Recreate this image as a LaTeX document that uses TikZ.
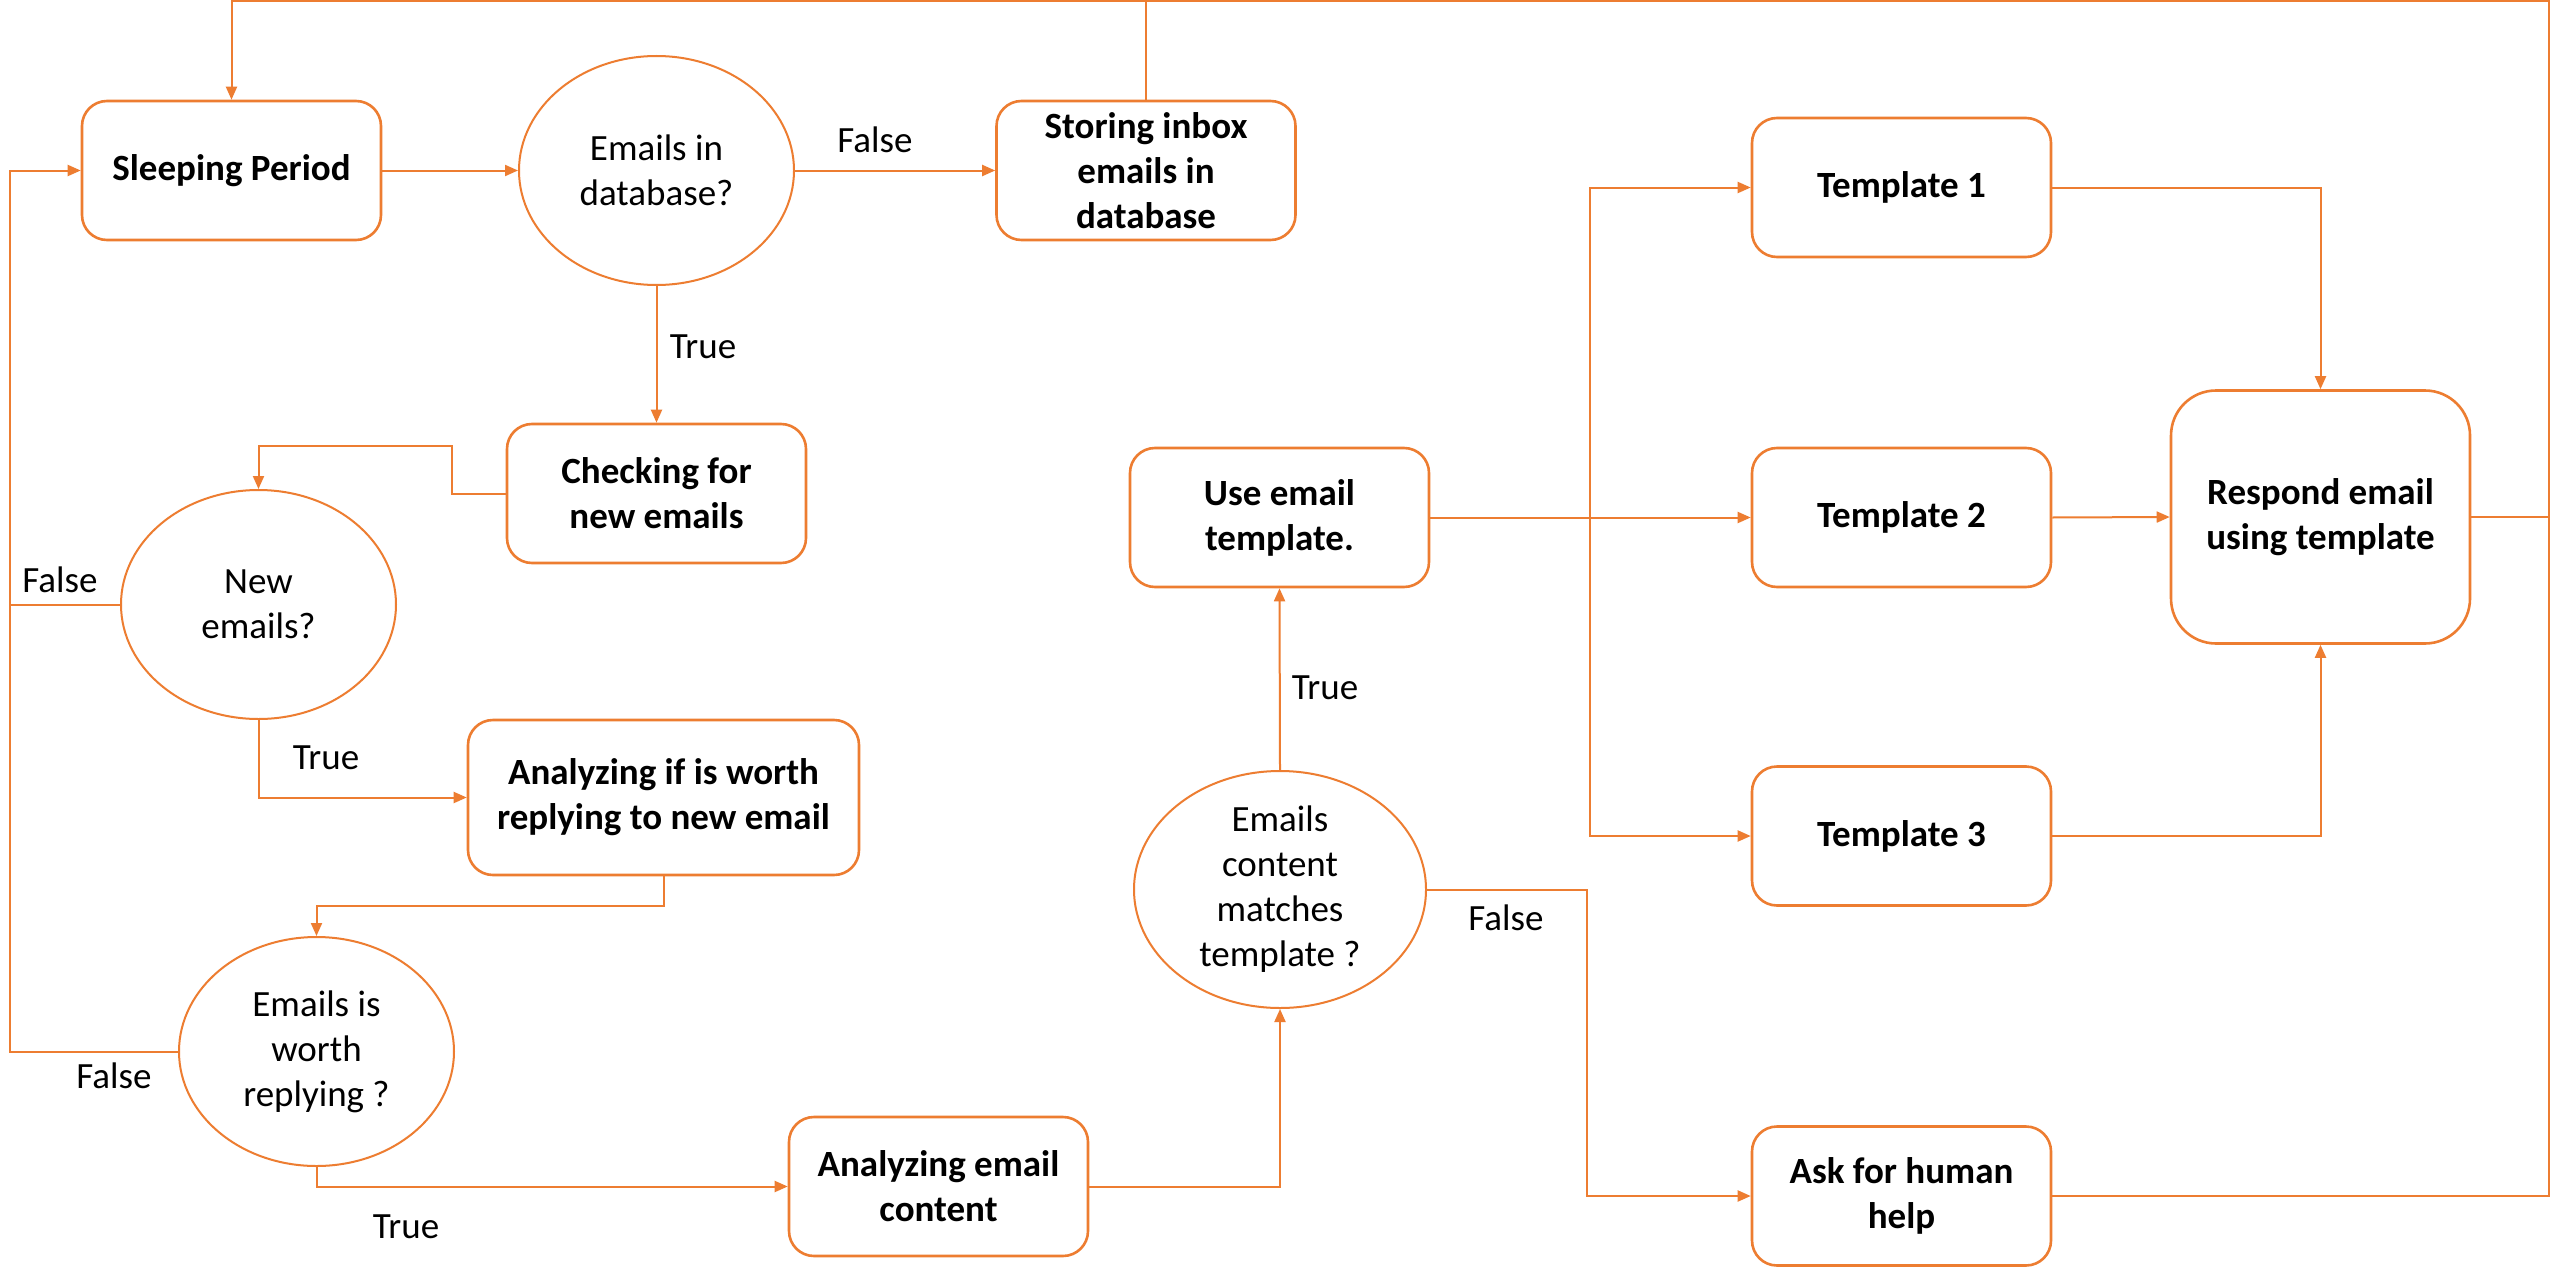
\documentclass[tikz,border=0pt]{standalone}
\usepackage{fontspec}
\setmainfont{Carlito}
\usetikzlibrary{shapes.geometric,arrows.meta}
\definecolor{flow}{HTML}{ED7D31}
\begin{document}
\begin{tikzpicture}[x=1pt,y=-1pt,
  every node/.style={font=\fontsize{37}{45}\selectfont, align=center},
  box/.style={draw=flow, line width=2.6pt, rounded corners=25pt, inner sep=0pt, minimum width=299pt, minimum height=139pt, font=\fontsize{37}{45}\selectfont\bfseries},
  oval/.style={draw=flow, line width=2pt, ellipse, inner sep=0pt, minimum width=275pt, minimum height=229pt},
  conn/.style={draw=flow, line width=2pt},
  arr/.style={conn, -{Triangle[length=13pt,width=11pt]}},
  lbl/.style={inner sep=0pt}]
\useasboundingbox (0,0) rectangle (2551,1271);
\fill[white] (0,0) rectangle (2551,1271);
% nodes
\node[box] (sleep) at (231.5,170.5) {Sleeping Period};
\node[oval] (db) at (656.5,170.5) {Emails in\\database?};
\node[box] (store) at (1146,170.5) {Storing inbox\\emails in\\database};
\node[box] (check) at (656.5,493.5) {Checking for\\new emails};
\node[oval] (newe) at (258.5,604.5) {New\\emails?};
\node[box, minimum width=391pt, minimum height=155pt] (anw) at (663.5,797.5) {Analyzing if is worth\\replying to new email};
\node[oval] (worth) at (316.5,1051.5) {Emails is\\worth\\replying ?};
\node[box] (content) at (938.5,1186.5) {Analyzing email\\content};
\node[oval, minimum width=292pt, minimum height=237pt] (match) at (1280,889.5) {Emails\\content\\matches\\template ?};
\node[box] (use) at (1279.5,517.5) {Use email\\template.};
\node[box] (t1) at (1901.5,187.5) {Template 1};
\node[box] (t2) at (1901.5,517.5) {Template 2};
\node[box] (t3) at (1901.5,836) {Template 3};
\node[box] (ask) at (1901.5,1196) {Ask for human\\help};
\node[box, minimum height=253pt, rounded corners=45pt] (resp) at (2320.5,517) {Respond email\\using template};
% helper coordinates
\coordinate (tr) at (2549,1.5);
\coordinate (lx) at (10,1051.5);
\coordinate (split) at (1590,517.5);
\coordinate (b1) at (452,446);
% connectors
\draw[arr] (sleep.east) -- (db.west);
\draw[arr] (db.east) -- (store.west);
\draw[arr] (db.south) -- (check.north);
\draw[arr] (check.west) -| (b1) -| (newe.north);
\draw[arr] (newe.south) |- (anw.west);
\draw[arr] (anw.south) -- ++(0,30) -| (worth.north);
\draw[arr] (worth.south) |- (content.west);
\draw[arr] (content.east) -| (match.south);
\draw[arr] (match.north) -- (use.south);
\draw[conn] (use.east) -- (split);
\draw[arr] (split) |- (t1.west);
\draw[arr] (split) -- (t2.west);
\draw[arr] (split) |- (t3.west);
\draw[arr] (match.east) -- ++(160,0) |- (ask.west);
\draw[arr] (t1.east) -| (resp.north);
\draw[arr] (t2.east) -- (resp.west);
\draw[arr] (t3.east) -| (resp.south);
\draw[conn] (resp.east) -- (resp.east -| tr);
\draw[arr] (ask.east) -| (tr) -| (sleep.north);
\draw[conn] (store.north) -- (store.north |- tr);
\draw[conn] (newe.west) -- (newe.west -| lx);
\draw[arr] (worth.west) -- (lx) |- (sleep.west);
% labels
\node[lbl] (l1) at (875,140) {False};
\node[lbl] (l2) at (703,347) {True};
\node[lbl] (l3) at (60,580) {False};
\node[lbl] (l4) at (326,758) {True};
\node[lbl] (l5) at (114,1076) {False};
\node[lbl] (l6) at (406,1227) {True};
\node[lbl] (l7) at (1325,688) {True};
\node[lbl] (l8) at (1506,918) {False};
\end{tikzpicture}
\end{document}
